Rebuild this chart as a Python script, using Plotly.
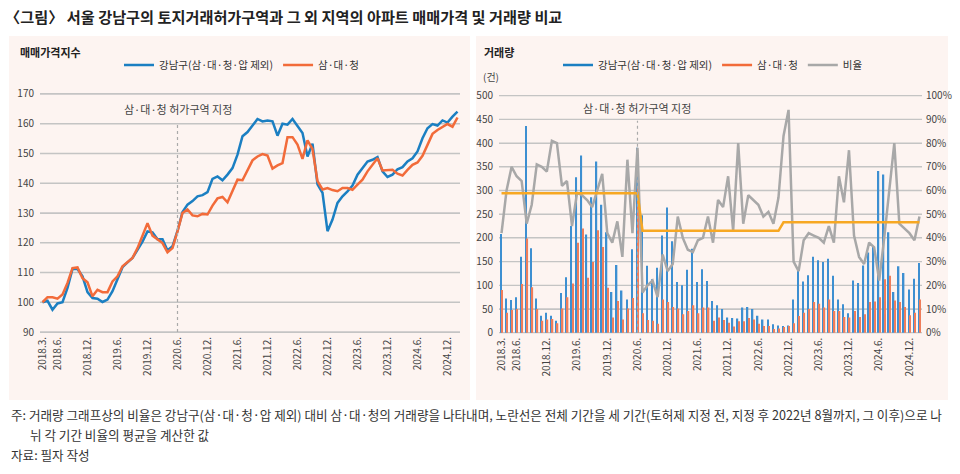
import plotly.graph_objects as go

# ---- data (monthly, 2018.3 ~ 2025.2) ----
months = []
for yr in range(2018, 2026):
    for mo in range(1, 13):
        if (yr == 2018 and mo < 3) or (yr == 2025 and mo > 2):
            continue
        months.append(f"{yr}.{mo}.")

tick_months = ["2018.3.", "2018.6.", "2018.12.", "2019.6.", "2019.12.", "2020.6.",
               "2020.12.", "2021.6.", "2021.12.", "2022.6.", "2022.12.", "2023.6.",
               "2023.12.", "2024.6.", "2024.12."]

# 매매가격지수
gangnam_idx = [100, 100.5, 97.5, 99.6, 100, 104.8, 111.2, 111.2, 108.7, 103.4,
               101.4, 101.2, 100.1, 100.9, 103.7, 107.6, 111.8, 113.4, 114.9, 117.6,
               120.4, 123.8, 123.5, 121.2, 121.2, 117.4, 118.8, 124,
               130.3, 132.8, 134, 135.6, 136, 137, 141.5, 142.3, 141, 142.9,
               145.1, 149.6, 155.8, 157.2, 159.3, 161.6, 160.8, 161.1, 160.8, 156,
               160, 159.7, 161.6, 159.3, 156.9, 149, 153.3, 139.6, 136.8, 123.9,
               127.8, 133.4,
               135.6, 137.3, 139.2, 142.9, 145.1, 147.3, 147.9, 148.8, 144, 142.1,
               142.9, 144.7, 145.4, 147.3, 148.4, 150.7, 155.1, 158.5, 159.9, 159.4,
               161.1, 160.4, 162.4, 164.1]
sdc_idx = [100, 101.7, 101.7, 101.2, 102.6, 106.5, 111.5, 111.7, 108.1, 106.7,
           102, 104.2, 103.4, 103.4, 107, 108.7, 112.1, 113.4, 114.9, 118.2,
           122.7, 126.6, 122.4, 121.2, 119.9, 116.8, 118.2, 123.8,
           130, 131.2, 129.2, 128.9, 129.7, 129.5, 132.5, 134.9, 135.4, 133.6,
           137.3, 141.2, 141, 144.6, 147.7, 149, 149.8, 149.3, 144.9, 146,
           146.8, 155.5, 155.5, 153, 148.2, 154.4, 151.5, 140.7, 137.9, 138.4,
           137.7, 137.3,
           138.4, 138.4, 137.8, 139.5, 141.2, 144, 146.2, 148.4, 144.3, 144.5,
           144.5, 143.2, 142.6, 144.5, 146.2, 147, 149.2, 152.9, 156.6, 157.9,
           159, 159.9, 159, 162.1]

# 거래량 (건)
gangnam_vol = [208, 72, 69, 75, 160, 436, 178, 72, 36, 42, 36, 25, 84, 117, 225,
               328, 374, 207, 286, 361, 270, 212, 86, 143, 89, 70, 176, 390,
               248, 141, 113, 137, 205, 264, 193, 107, 100, 133, 177, 107, 134, 109,
               67, 58, 50, 32, 31, 30, 53, 54, 50, 36, 28, 28, 18, 15, 14, 15,
               70, 130, 108, 121, 160, 153, 149, 156, 120, 70, 60, 41, 110, 105,
               142, 169, 183, 341, 334, 212, 86, 140, 126, 91, 114, 147]
sdc_vol = [90, 42, 48, 50, 103, 199, 96, 50, 25, 28, 29, 20, 51, 75, 104,
           190, 220, 116, 149, 216, 181, 95, 32, 67, 28, 51, 73, 305,
           41, 27, 25, 19, 70, 65, 54, 51, 39, 46, 58, 41, 53, 53,
           25, 32, 27, 21, 13, 24, 24, 31, 28, 19, 14, 14, 8, 9, 12, 14,
           20, 35, 42, 50, 65, 61, 53, 70, 46, 46, 33, 32, 46, 33,
           39, 65, 66, 75, 113, 120, 68, 65, 54, 37, 42, 70]

# 비율 (%)
ratio_pct = [42, 60, 70, 66, 64, 46, 54, 71, 70, 68, 81, 80, 62, 64, 45, 59, 58,
             56, 53, 60, 67, 42, 38, 47, 32, 73, 42, 78, 17, 20,
             22, 15, 33, 26, 29, 49, 40, 35, 34, 39, 40, 49, 38, 56, 53, 66, 43,
             80, 46, 58, 56, 54, 49, 51, 46, 57, 83, 94, 30,
             26, 39, 42, 41, 40, 38, 45, 38, 66, 55, 77, 41, 32, 29, 38, 36, 22,
             40, 60, 80, 46, 44, 42, 39, 49]

# 기간별 평균 비율 (토허제 지정 전 / 지정 후 2022.8까지 / 그 이후)
period_avg = [58.8, 43.0, 46.6]
period_len = [28, 28, 28]
avg_line = []
for v, n in zip(period_avg, period_len):
    avg_line += [v] * n

# axis tick levels (gridlines)
idx_ticks = [90, 100, 110, 120, 130, 140, 150, 160, 170]
vol_ticks = [0, 50, 100, 150, 200, 250, 300, 350, 400, 450, 500]

FONT = "Noto Sans CJK KR, Noto Sans, sans-serif"
BLUE = "#1b7fc2"
ORANGE = "#f26b3a"
GRAY = "#a8a8a8"
YELLOW = "#f7a823"
PANEL = "#fdf4f1"
GRID = "#c4c4c4"
W, H = 960, 474


def px(x):
    return x / W


def py(y):
    return 1 - y / H


fig = go.Figure()

# left: 매매가격지수
fig.add_trace(go.Scatter(x=months, y=gangnam_idx, name="강남구(삼·대·청·압 제외)",
                         mode="lines", line=dict(color=BLUE, width=2.5),
                         xaxis="x", yaxis="y", legend="legend"))
fig.add_trace(go.Scatter(x=months, y=sdc_idx, name="삼·대·청",
                         mode="lines", line=dict(color=ORANGE, width=2.5),
                         xaxis="x", yaxis="y", legend="legend"))

# right: 거래량 bars
fig.add_trace(go.Bar(x=months, y=gangnam_vol, marker_color="#3d8fd1",
                     marker_line_width=0, showlegend=False,
                     xaxis="x2", yaxis="y2"))
fig.add_trace(go.Bar(x=months, y=sdc_vol, marker_color="#ef7d5a",
                     marker_line_width=0, showlegend=False,
                     xaxis="x2", yaxis="y2"))
fig.add_trace(go.Scatter(x=months, y=ratio_pct, mode="lines", showlegend=False,
                         line=dict(color=GRAY, width=2.5),
                         xaxis="x2", yaxis="y3"))
fig.add_trace(go.Scatter(x=months, y=avg_line, mode="lines", showlegend=False,
                         line=dict(color=YELLOW, width=2.5),
                         xaxis="x2", yaxis="y3"))

# legend entries for the right panel (drawn as lines like the original)
for nm, col in [("강남구(삼·대·청·압 제외)", BLUE), ("삼·대·청", ORANGE), ("비율", GRAY)]:
    fig.add_trace(go.Scatter(x=[None], y=[None], name=nm, mode="lines",
                             line=dict(color=col, width=2.5),
                             xaxis="x2", yaxis="y3", legend="legend2"))

tickfont = dict(family=FONT, size=10, color="#444")
xcommon = dict(type="category", tickmode="array", tickvals=tick_months,
               ticktext=tick_months, tickangle=-90, showgrid=False,
               showline=False, ticks="", zeroline=False, tickfont=tickfont,
               range=[-0.5, len(months) - 0.5], automargin=False)
ycommon = dict(showline=False, ticks="", zeroline=False, tickfont=tickfont,
               showgrid=True, gridcolor=GRID, gridwidth=1.3,
               ticklabelstandoff=5, automargin=False)

# plot areas are 2px taller than the grid so the edge gridlines stay inside
L_TOP, L_BOT = 92, 334      # 170 at y=94, 90 at y=332
R_TOP, R_BOT = 93.7, 334.7  # 500 at y=95.7, 0 at y=332.7

fig.update_layout(
    template="none",
    width=W, height=H,
    margin=dict(l=0, r=0, t=0, b=0, pad=0, autoexpand=False),
    paper_bgcolor="white", plot_bgcolor="rgba(0,0,0,0)",
    font=dict(family=FONT, size=11, color="#333"),
    barmode="group", bargap=0.45, bargroupgap=0,
    xaxis=dict(domain=[px(40), px(460)], anchor="y", **xcommon),
    yaxis=dict(domain=[py(L_BOT), py(L_TOP)], range=[89.33, 170.67],
               tickmode="array", tickvals=idx_ticks, anchor="x", **ycommon),
    xaxis2=dict(domain=[px(499), px(922)], anchor="y2", **xcommon),
    yaxis2=dict(domain=[py(R_BOT), py(R_TOP)], range=[-4.2, 504.2],
                tickmode="array", tickvals=vol_ticks, anchor="x2", **ycommon),
    yaxis3=dict(overlaying="y2", side="right", range=[-0.84, 100.84], dtick=10,
                tick0=0, ticksuffix="%", showgrid=False, anchor="x2",
                showline=False, ticks="", zeroline=False, tickfont=tickfont,
                ticklabelstandoff=3, automargin=False),
    legend=dict(orientation="h", x=px(119), y=py(65), xanchor="left",
                yanchor="middle", bgcolor="rgba(0,0,0,0)", borderwidth=0,
                font=dict(family=FONT, size=10.5, color="#333")),
    legend2=dict(orientation="h", x=px(558), y=py(65), xanchor="left",
                 yanchor="middle", bgcolor="rgba(0,0,0,0)", borderwidth=0,
                 font=dict(family=FONT, size=10.5, color="#333")),
    showlegend=True,
)

# panel backgrounds
for x0, x1 in [(9, 470), (476, 948)]:
    fig.add_shape(type="rect", xref="paper", yref="paper",
                  x0=px(x0), x1=px(x1), y0=py(400), y1=py(36),
                  fillcolor=PANEL, line_width=0, layer="below")

# horizontal gridlines at the tick levels, on top of the panels, under the data
x_lo, x_hi = -0.5, len(months) - 0.5
for v in idx_ticks:
    fig.add_shape(type="line", xref="x", yref="y", x0=x_lo, x1=x_hi, y0=v, y1=v,
                  line=dict(color=GRID, width=1.3), layer="below")
for v in vol_ticks:
    fig.add_shape(type="line", xref="x2", yref="y2", x0=x_lo, x1=x_hi, y0=v, y1=v,
                  line=dict(color=GRID, width=1.3), layer="below")

# 허가구역 지정 (2020.6) dashed markers
fig.add_shape(type="line", xref="x", yref="y", x0="2020.6.", x1="2020.6.",
              y0=90, y1=160.3, line=dict(color="#aaaaaa", width=1.2, dash="dot"))
fig.add_shape(type="line", xref="x2", yref="y2", x0="2020.6.", x1="2020.6.",
              y0=0, y1=447, line=dict(color="#aaaaaa", width=1.2, dash="dot"))
fig.add_annotation(x="2020.6.", y=165, xref="x", yref="y", text="삼·대·청 허가구역 지정",
                   showarrow=False, font=dict(size=11, color="#444"))
fig.add_annotation(x="2020.6.", y=474, xref="x2", yref="y2", text="삼·대·청 허가구역 지정",
                   showarrow=False, font=dict(size=11, color="#444"))

# axis titles
fig.add_annotation(x=px(18), y=py(52), xref="paper", yref="paper", xanchor="left",
                   yanchor="middle", text="<b>매매가격지수</b>", showarrow=False,
                   font=dict(size=11, color="#222"))
fig.add_annotation(x=px(482), y=py(52), xref="paper", yref="paper", xanchor="left",
                   yanchor="middle", text="<b>거래량</b>", showarrow=False,
                   font=dict(size=11, color="#222"))
fig.add_annotation(x=px(481), y=py(76), xref="paper", yref="paper", xanchor="left",
                   yanchor="middle", text="(건)", showarrow=False,
                   font=dict(size=10, color="#444"))

# title and notes
fig.add_annotation(x=px(3), y=py(16), xref="paper", yref="paper", xanchor="left",
                   yanchor="middle", showarrow=False,
                   text="<b>〈그림〉 서울 강남구의 토지거래허가구역과 그 외 지역의 아파트 매매가격 및 거래량 비교</b>",
                   font=dict(size=15.2, color="#222"))
notes = [
    (9, 414, "주: 거래량 그래프상의 비율은 강남구(삼·대·청·압 제외) 대비 삼·대·청의 거래량을 나타내며, "
             "노란선은 전체 기간을 세 기간(토허제 지정 전, 지정 후 2022년 8월까지, 그 이후)으로 나"),
    (28, 434, "뉘 각 기간 비율의 평균을 계산한 값"),
    (9, 454, "자료: 필자 작성"),
]
for nx, ny, txt in notes:
    fig.add_annotation(x=px(nx), y=py(ny), xref="paper", yref="paper", xanchor="left",
                       yanchor="middle", showarrow=False, text=txt,
                       font=dict(size=12.6, color="#333"))

# the page body has a default 8px margin; drop it so the figure fills the window
fig.write_html("out.html", config={"displayModeBar": False},
               post_script="document.body.style.margin='0';")
